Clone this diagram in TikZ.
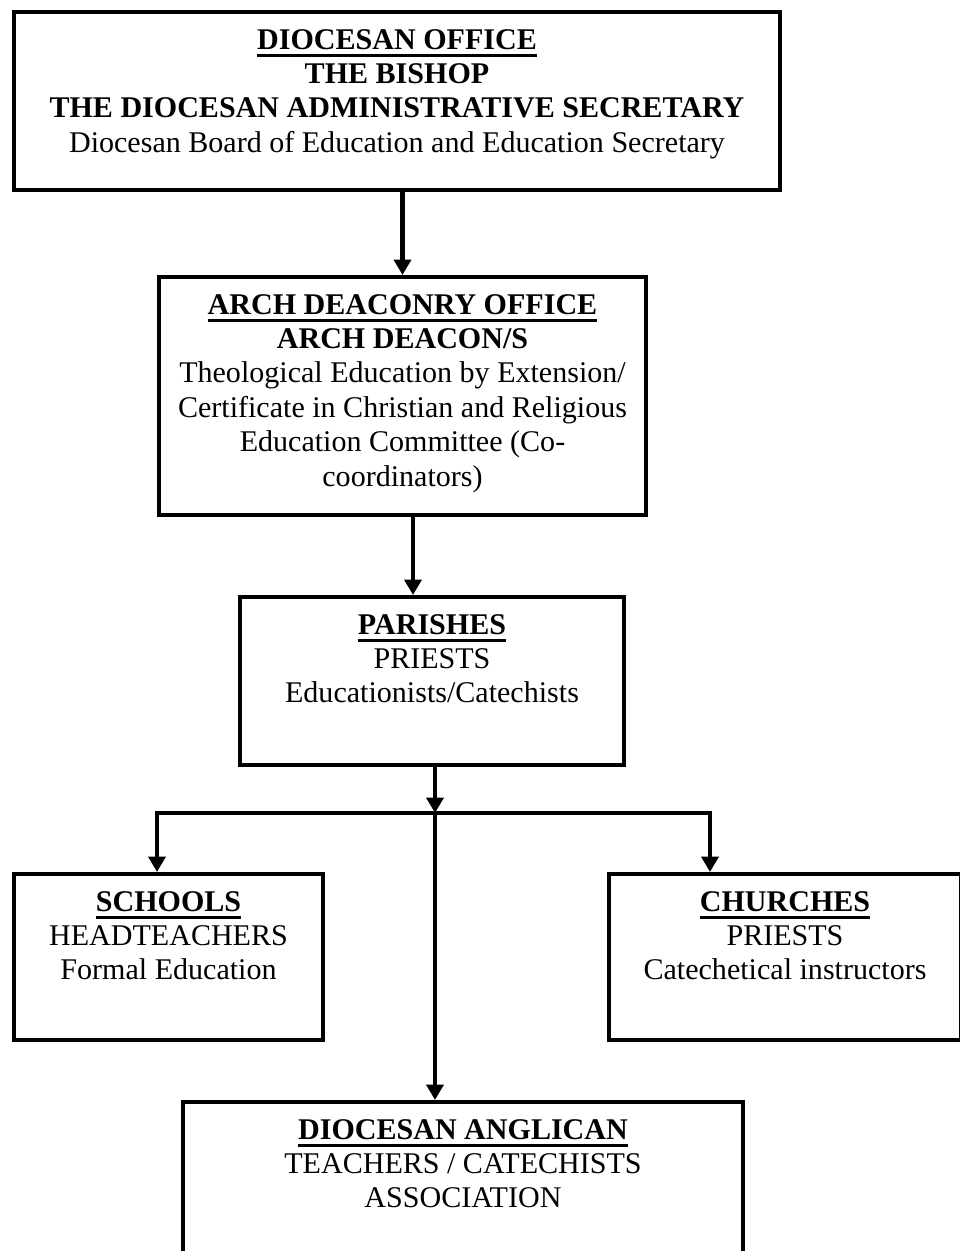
\documentclass[tikz,border=0pt]{standalone}
\usepackage{fontspec}
\setmainfont{Liberation Serif}
\usepackage{tikz}
\usetikzlibrary{arrows.meta}

% underlined title, thicker rule than \underline
\newcommand{\ulbox}[1]{\setbox0=\hbox{#1}\rlap{\rule[-4.5pt]{\wd0}{1.6pt}}\box0}
% text block top aligned in a box of given width and height
\newcommand{\boxtext}[3]{\parbox[c][#2][t]{#1}{\centering\rule{0pt}{0.74cm}#3}}

\tikzset{
  orgbox/.style={draw, line width=2.3pt, inner sep=0pt, anchor=north,
    font=\fontsize{17.1}{19.6}\selectfont},
  arr/.style={line width=2.3pt, -{Triangle[length=0.31cm,width=0.34cm]}},
  plain/.style={line width=2.3pt}
}

\begin{document}
\begin{tikzpicture}
    \useasboundingbox (0,0) rectangle (19.2,-25.02);
    % levels of the diocese
    \node[orgbox] (diocese) at (7.94,-0.2) {\boxtext{15.32cm}{3.56cm}{%
        \ulbox{\textbf{DIOCESAN OFFICE}}\\
        \textbf{THE BISHOP}\\
        \textbf{THE DIOCESAN ADMINISTRATIVE SECRETARY}\\
        Diocesan Board of Education and Education Secretary}};
    \node[orgbox] (archdeacon) at (8.05,-5.5) {\boxtext{9.74cm}{4.76cm}{%
        \ulbox{\textbf{ARCH DEACONRY OFFICE}}\\
        \textbf{ARCH DEACON/S}\\
        Theological Education by Extension/\\
        Certificate in Christian and Religious\\
        Education Committee (Co-\\
        coordinators)}};
    \node[orgbox] (parishes) at (8.64,-11.9) {\boxtext{7.68cm}{3.36cm}{%
        \ulbox{\textbf{PARISHES}}\\
        PRIESTS\\
        Educationists/Catechists}};
    \node[orgbox] (schools) at (3.37,-17.44) {\boxtext{6.18cm}{3.32cm}{%
        \ulbox{\textbf{SCHOOLS}}\\
        HEADTEACHERS\\
        Formal Education}};
    \node[orgbox] (churches) at (15.7,-17.44) {\boxtext{7.04cm}{3.32cm}{%
        \ulbox{\textbf{CHURCHES}}\\
        PRIESTS\\
        Catechetical instructors}};
    \node[orgbox] (association) at (9.26,-22.0) {\boxtext{11.2cm}{3.6cm}{%
        \ulbox{\textbf{DIOCESAN ANGLICAN}}\\
        TEACHERS / CATECHISTS\\
        ASSOCIATION}};
    % connectors
    \coordinate (split) at (8.7,-16.26);
    \draw [arr] (diocese.south -| archdeacon.north) -- (archdeacon.north);
    \draw [arr] ([xshift=0.21cm]archdeacon.south) -- ([xshift=0.21cm]archdeacon.south |- parishes.north);
    \draw [arr] (parishes.south -| split) -- (split);
    \draw [arr] (split) -| ([xshift=-0.23cm]schools.north);
    \draw [arr] (split) -| ([xshift=-1.5cm]churches.north);
    \draw [arr] (split) -- (split |- association.north);
\end{tikzpicture}
\end{document}
